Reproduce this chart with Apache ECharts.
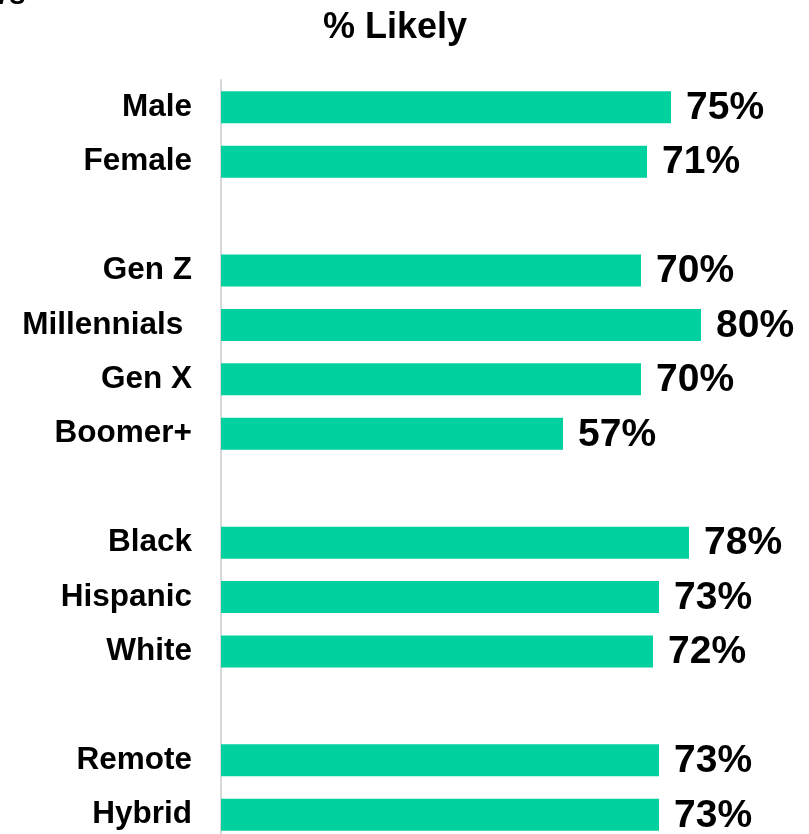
<!DOCTYPE html>
<html>
<head>
<meta charset="utf-8">
<script src="https://cdn.jsdelivr.net/npm/echarts@6/dist/echarts.min.js"></script>
<style>html,body{margin:0;padding:0;background:#fff;}#c{width:809px;height:834px;}</style>
</head>
<body>
<div id="c"></div>
<script>
const categories = ['Male', 'Female', ' ', 'Gen Z', 'Millennials ', 'Gen X', 'Boomer+', '  ', 'Black', 'Hispanic', 'White', '   ', 'Remote', 'Hybrid'];
const values = [75, 71, null, 70, 80, 70, 57, null, 78, 73, 72, null, 73, 73];
const titleText = '% Likely';
const cutText = 'rs';

const chart = echarts.init(document.getElementById('c'), null, {renderer: 'canvas'});
const FONT = '"Liberation Sans", Arial, sans-serif';
chart.setOption({
  animation: false,
  backgroundColor: '#ffffff',
  grid: {left: 221, top: 80, width: 600, height: 762, containLabel: false, outerBoundsMode: 'none'},
  xAxis: {type: 'value', min: 0, max: 100, show: false},
  yAxis: {
    type: 'category', data: categories, inverse: true,
    axisLine: {show: true, lineStyle: {color: '#d9d9d9', width: 2}},
    axisTick: {show: false},
    splitLine: {show: false},
    axisLabel: {margin: 29, color: '#000', fontFamily: FONT, fontWeight: 'bold', fontSize: 31.5}
  },
  series: [{
    type: 'bar', data: values, barWidth: 32,
    itemStyle: {color: '#00D19E'},
    label: {show: true, position: 'right', distance: 15, offset: [0, 1], formatter: p => p.value + '%',
      color: '#000', fontFamily: FONT, fontWeight: 'bold', fontSize: 39}
  }],
  graphic: [
    {type: 'text', x: 395, y: 28, silent: true,
     style: {text: titleText, textAlign: 'center', textVerticalAlign: 'middle',
       font: 'bold 36px ' + FONT, fill: '#000'}},
    {type: 'text', x: -2, y: 11, silent: true,
     style: {text: cutText, textAlign: 'left', textVerticalAlign: 'bottom',
       font: 'italic bold 30px ' + FONT, fill: '#000'}}
  ]
});
</script>
</body>
</html>
